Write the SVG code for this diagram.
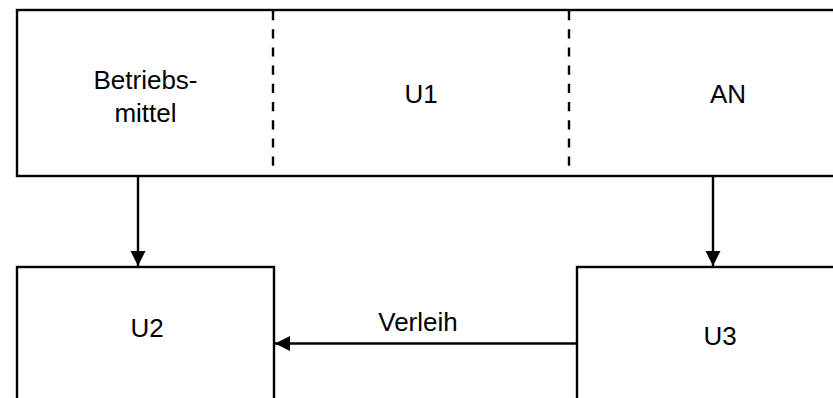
<svg xmlns="http://www.w3.org/2000/svg" width="833" height="398" viewBox="0 0 833 398">
<defs>
<style>
.box{fill:#fff;stroke:#000;stroke-width:2.4}
.dash{stroke:#000;stroke-width:2.4;stroke-dasharray:9.2 9}
.conn{stroke:#000;stroke-width:2.4;fill:none}
text{font-family:"Liberation Sans",Arial,sans-serif;font-size:26px;fill:#000;text-anchor:middle}
</style>
<marker id="arr" markerWidth="16" markerHeight="16" refX="15" refY="8" orient="auto" markerUnits="userSpaceOnUse">
<path d="M0,0.5 L15,8 L0,15.5 Z" fill="#000"/>
</marker>
</defs>
<rect width="833" height="398" fill="#fff"/>
<g id="top">
<rect class="box" x="17" y="10" width="880" height="166"/>
<line class="dash" x1="273" y1="11" x2="273" y2="171"/>
<line class="dash" x1="569" y1="11" x2="569" y2="171"/>
<text x="145.5" y="88.5">Betriebs-</text>
<text x="145.5" y="122">mittel</text>
<text x="421" y="103">U1</text>
<text x="728" y="103">AN</text>
</g>
<g id="u2">
<rect class="box" x="17" y="267" width="257" height="160"/>
<text x="147" y="337">U2</text>
</g>
<g id="u3">
<rect class="box" x="577" y="267" width="300" height="160"/>
<text x="720" y="345">U3</text>
</g>
<g id="connectors">
<line class="conn" x1="138" y1="176" x2="138" y2="266" marker-end="url(#arr)"/>
<line class="conn" x1="713" y1="176" x2="713" y2="266" marker-end="url(#arr)"/>
<line class="conn" x1="577" y1="343.5" x2="275" y2="343.5" marker-end="url(#arr)"/>
<text x="418" y="331">Verleih</text>
</g>
</svg>
